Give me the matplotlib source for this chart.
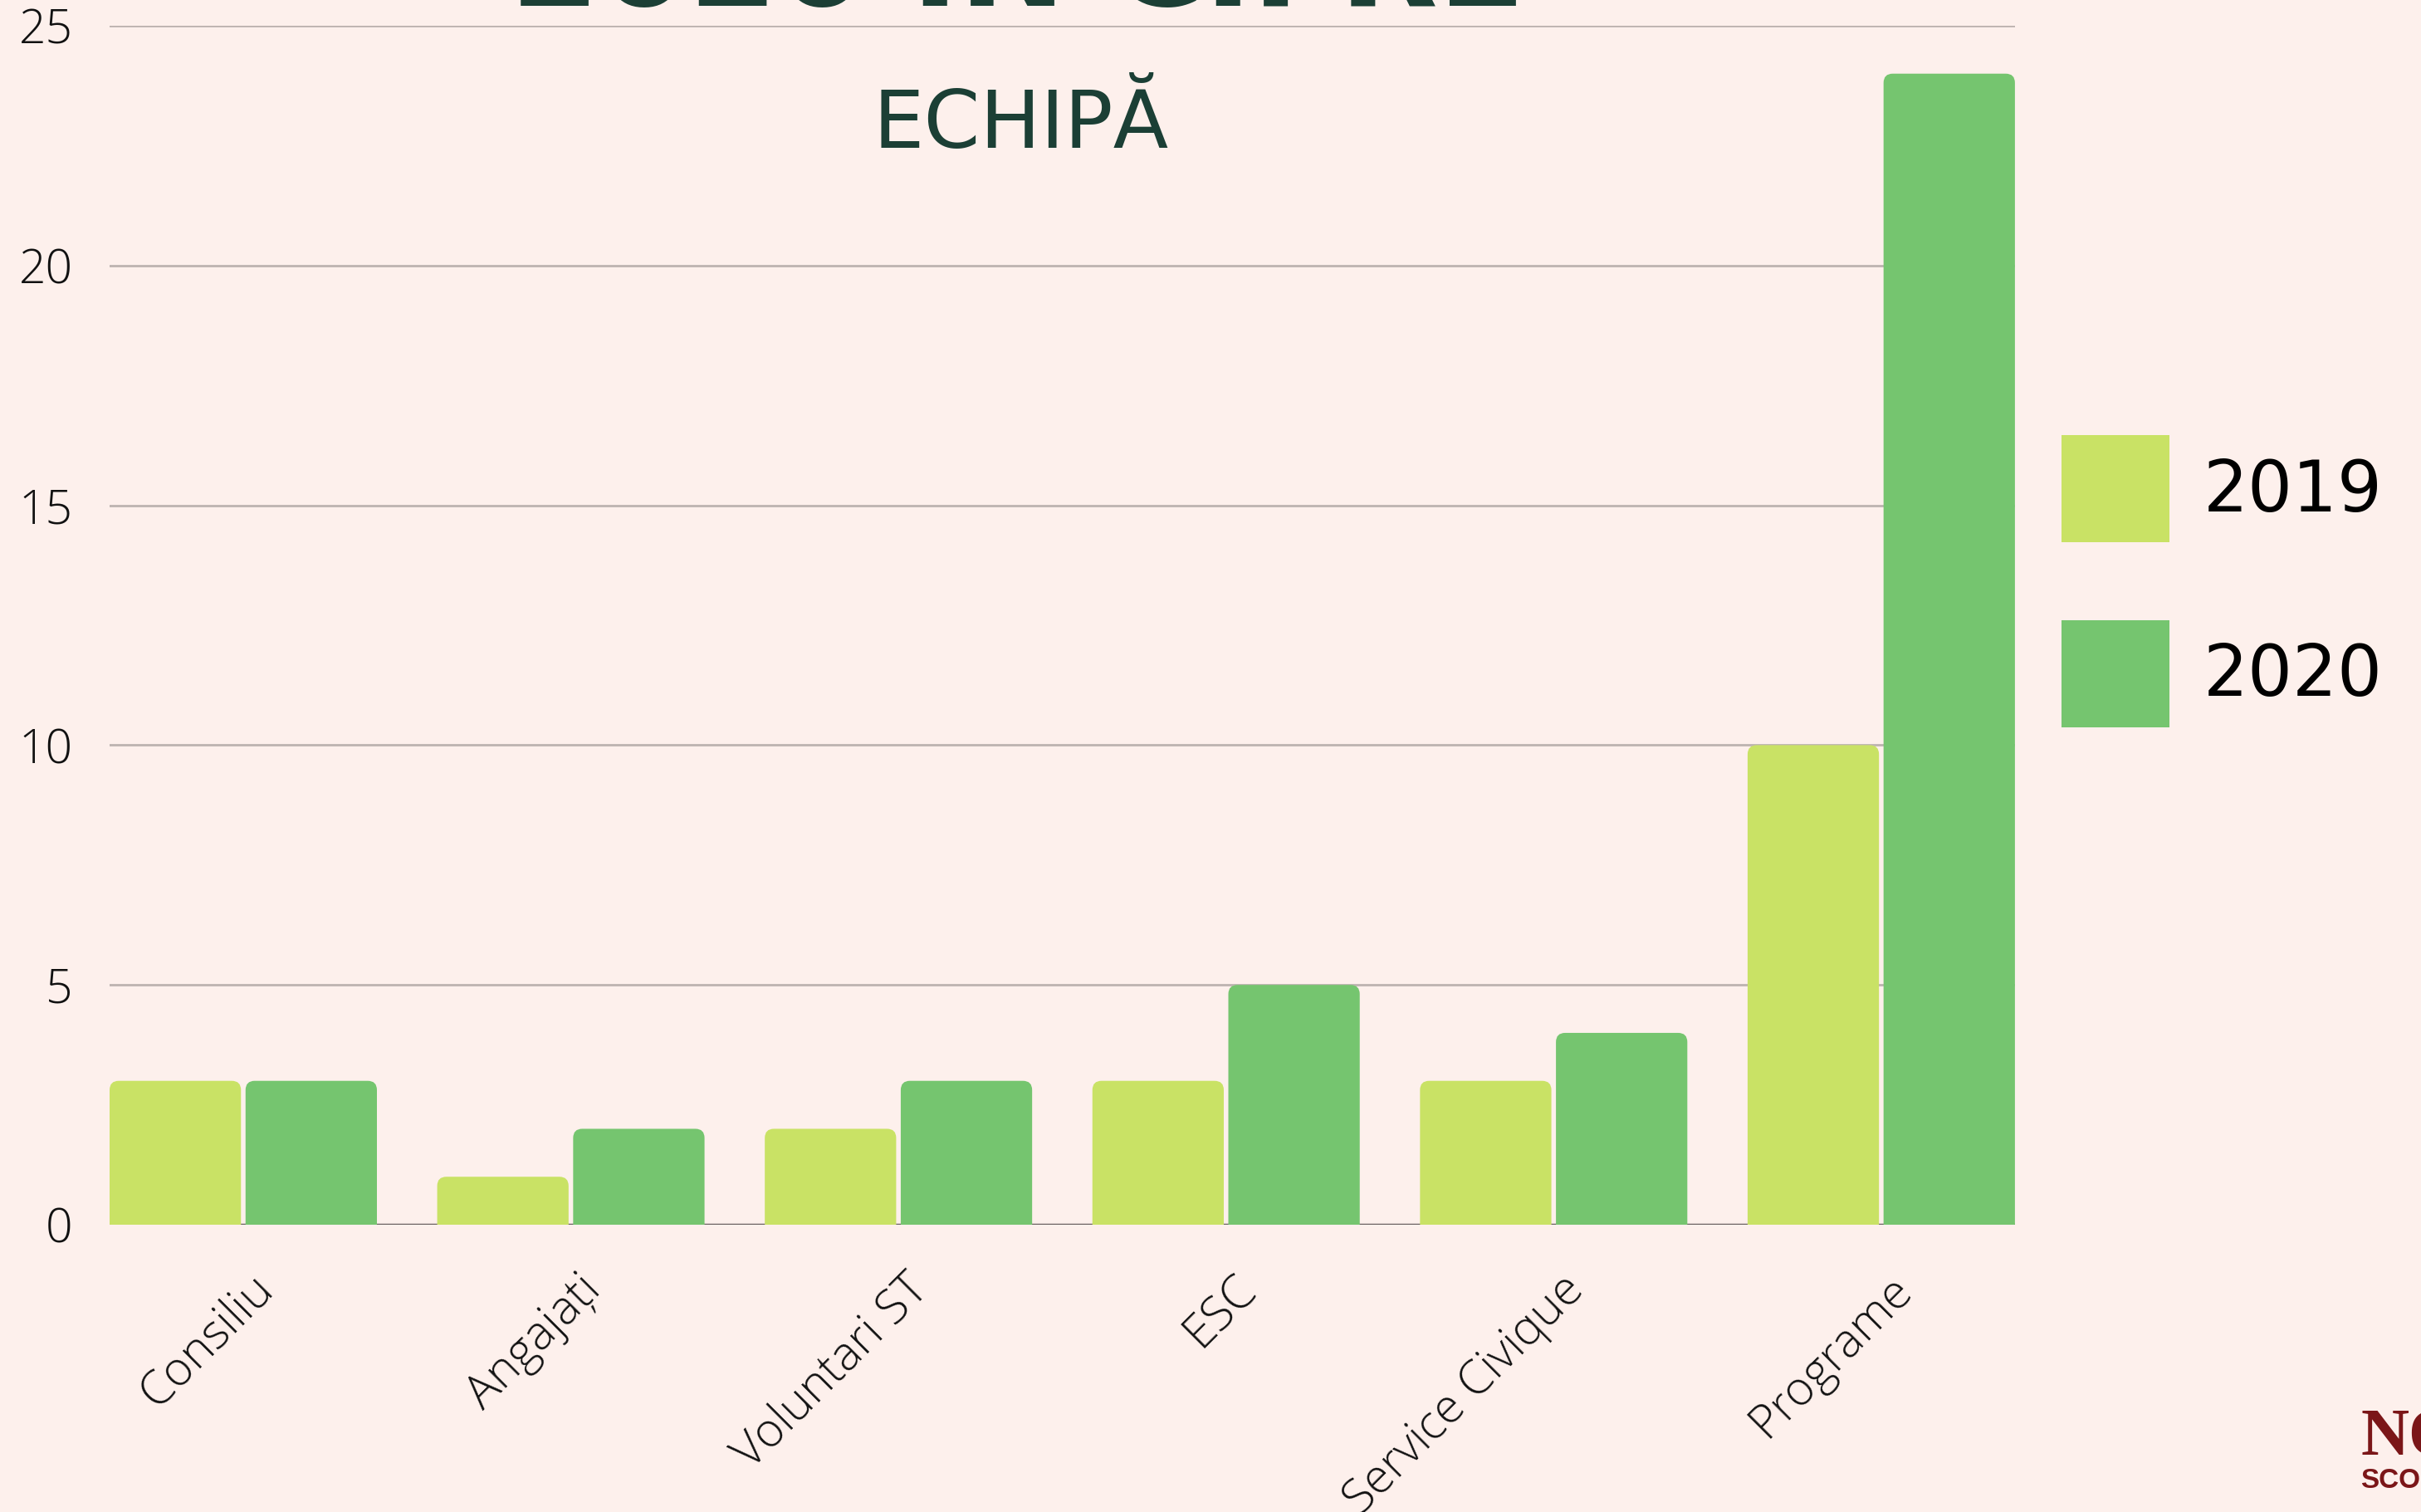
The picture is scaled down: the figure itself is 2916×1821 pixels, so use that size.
import matplotlib.pyplot as plt
import matplotlib.transforms as mtransforms
from matplotlib.patches import FancyBboxPatch
import numpy as np

categories = ['Consiliu', 'Angajați', 'Voluntari ST', 'ESC', 'Service Civique', 'Programe']
years = ['2019', '2020']
values_2019 = [3, 1, 2, 3, 3, 10]
values_2020 = [3, 2, 3, 5, 4, 24]
yticks = [0, 5, 10, 15, 20, 25]

bg = '#FDF0EC'
c2019 = '#C9E265'
c2020 = '#75C56F'
dark = '#1B3F35'

fig = plt.figure(figsize=(29.16, 18.21), dpi=100, facecolor=bg)
ax = fig.add_axes([0.04527, 0.19, 0.787, 0.793])
ax.set_facecolor(bg)

x = np.arange(len(categories))
w = 0.401
off = 0.2075
b1 = ax.bar(x - off, values_2019, w, color=c2019, label=years[0], zorder=3)
b2 = ax.bar(x + off, values_2020, w, color=c2020, label=years[1], zorder=3)

ax.set_xlim(-0.408, len(categories) - 1 + 0.408)
ax.set_ylim(0, 25)

# legend first, then swap the bars for rounded-top versions
leg = ax.legend(loc='upper left', bbox_to_anchor=(0.8515, 0.7122), bbox_transform=fig.transFigure,
                frameon=False, fontsize=61, handlelength=1.54, handleheight=1.97,
                labelspacing=1.1, handletextpad=0.48, borderpad=0, borderaxespad=0)
for t in leg.get_texts():
    t.set_color('black')

bb = ax.get_position()
pxx = bb.width * fig.get_figwidth() * fig.dpi / (ax.get_xlim()[1] - ax.get_xlim()[0])
pxy = bb.height * fig.get_figheight() * fig.dpi / (ax.get_ylim()[1] - ax.get_ylim()[0])
r = 11 / pxx
for cont in (b1, b2):
    for p in cont.patches:
        px, pw, ph = p.get_x(), p.get_width(), p.get_height()
        fc = p.get_facecolor()
        p.set_visible(False)
        ax.add_patch(FancyBboxPatch((px, -1), pw, ph + 1,
                                    boxstyle=f'round,pad=0,rounding_size={r}',
                                    mutation_aspect=pxx / pxy, fc=fc, ec='none', zorder=3))

ax.set_yticks(yticks)
ax.grid(axis='y', color='#BDB3B0', linewidth=2, zorder=0)
ax.axhline(0, color='#6B6262', linewidth=2.5, zorder=2)
for s in ax.spines.values():
    s.set_visible(False)
ax.tick_params(axis='y', length=0, pad=32, labelsize=41, labelcolor='#111111')
for t in ax.get_yticklabels():
    t.set_fontfamily(['Open Sans', 'DejaVu Sans'])
    t.set_fontweight('light')

ax.set_xticks(x)
ax.set_xticklabels(categories, rotation=45, ha='right', va='center', rotation_mode='anchor',
                   fontsize=41, color='#111111', family=['Open Sans', 'DejaVu Sans'], fontweight='light')
ax.tick_params(axis='x', length=0, pad=0)
shift = mtransforms.ScaledTranslation(0.28, -0.70, fig.dpi_scale_trans)
for t in ax.get_xticklabels():
    t.set_transform(t.get_transform() + shift)

fig.text(0.4205, 0.9962, '2020 ÎN CIFRE', ha='center', va='baseline', fontsize=111,
         fontweight='bold', color=dark)
fig.text(0.4215, 0.9023, 'ECHIPĂ', ha='center', va='baseline', fontsize=70, color=dark)

# logo corner (cut off by the page edge)
fig.text(0.975, 1 - 1752 / 1821, 'NO', ha='left', va='baseline', fontsize=58,
         fontweight='bold', family='Liberation Serif', color='#7B1618')
fig.text(0.975, 1 - 1792 / 1821, 'SCOU', ha='left', va='baseline', fontsize=24,
         fontweight='bold', family='Liberation Sans', color='#7B1618')

fig.savefig('out.png', dpi=100, facecolor=bg)
